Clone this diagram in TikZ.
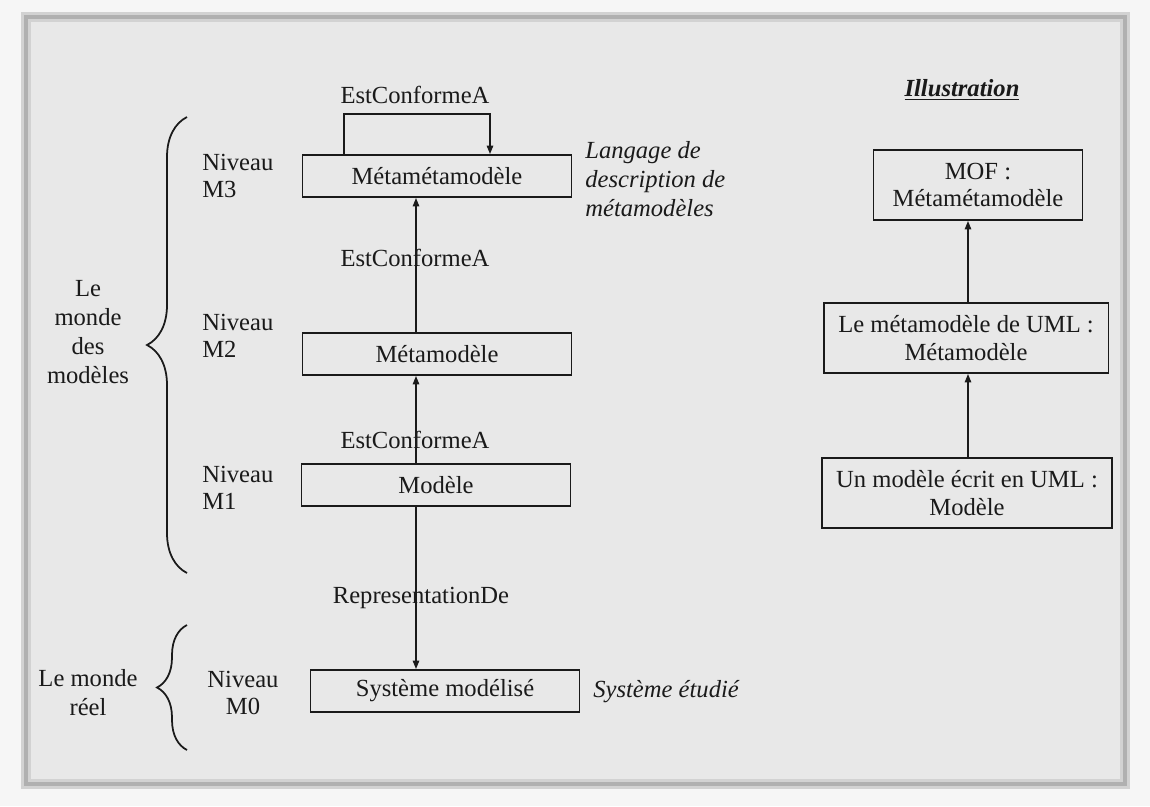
\documentclass[tikz,border=0pt]{standalone}
\usepackage{fontspec}
\setmainfont{Liberation Serif}
\usetikzlibrary{arrows.meta,decorations.pathreplacing,calc}
\definecolor{ink}{HTML}{1A1A1A}
\definecolor{paper}{HTML}{E8E8E8}
\definecolor{sheet}{HTML}{F6F6F6}
\begin{document}
\begin{tikzpicture}[x=0.02cm,y=-0.02cm,
  txt/.style={font=\fontsize{14}{16.5}\selectfont, text=ink, inner sep=0pt},
  pair/.style={font=\fontsize{14}{15.5}\selectfont, text=ink, inner sep=0pt},
  box/.style={txt, draw=ink, line width=1.1pt, minimum height=0.84cm, minimum width=5.38cm},
  ibox/.style={pair, draw=ink, line width=1.1pt, align=center, minimum height=1.4cm},
  link/.style={draw=ink, line width=0.8pt, -{Triangle[length=0.17cm,width=0.13cm]}},
  brc/.style={draw=ink, line width=1pt, decorate, decoration={brace, amplitude=#1}},
]
\useasboundingbox (0,0) rectangle (1150,806);
% sheet and framed panel
\fill[sheet] (0,0) rectangle (1150,806);
\fill[paper] (26,17) rectangle (1125,784);
\draw[gray!35, line width=6pt] (26,17) rectangle (1125,784);
\draw[gray!62, line width=2pt] (26,17) rectangle (1125,784);

% left column: modelling levels
\node[box] (m3) at (437,176) {Métamétamodèle};
\node[box] (m2) at (437,354) {Métamodèle};
\node[box] (m1) at (436,485) {Modèle};
\node[box] (m0) at (445,691) {Système modélisé};

\coordinate (ax) at (416,0);
\coordinate (lp1) at (344,114);
\coordinate (lp2) at (490,114);

\draw[link] (m3.north -| lp1) -- (lp1) -- (lp2) -- (m3.north -| lp2);
\draw[link] (m2.north -| ax) -- (m3.south -| ax);
\draw[link] (m1.north -| ax) -- (m2.south -| ax);
\draw[link] (m1.south -| ax) -- (m0.north -| ax);

\node[txt] (c3) at (415,95) {EstConformeA};
\node[txt] (c2) at (415,258) {EstConformeA};
\node[txt] (c1) at (415,440) {EstConformeA};
\node[txt] (rep) at (421,598) {RepresentationDe};

\node[txt, align=left, anchor=west] (lang) at (585,179)
  {\itshape Langage de\\\itshape description de\\\itshape métamodèles};
\node[txt, anchor=west] (etud) at (593,692) {\itshape Système étudié};

% level names
\node[pair, align=left, anchor=west] (n3) at (202,176) {Niveau\\M3};
\node[pair, align=left, anchor=west] (n2) at (202,336) {Niveau\\M2};
\node[pair, align=left, anchor=west] (n1) at (202,488) {Niveau\\M1};
\node[pair, align=center] (n0) at (243,693) {Niveau\\M0};

% worlds and braces
\draw[brc=0.8cm] (187,573) -- (187,117);
\draw[brc=0.6cm] (187,750) -- (187,625);
\node[txt, align=center] (wm) at (88,332) {Le\\monde\\des\\modèles};
\node[txt, align=center] (wr) at (88,693) {Le monde\\réel};

% right column: illustration
\node[txt] (ill) at (962,90) {\underline{\textbf{\textit{Illustration}}}};
\node[ibox, minimum width=4.18cm] (mof) at (978,185) {MOF :\\Métamétamodèle};
\node[ibox, minimum width=5.7cm] (u2) at (966,338) {Le métamodèle de UML :\\Métamodèle};
\node[ibox, minimum width=5.8cm] (u1) at (967,493) {Un modèle écrit en UML :\\Modèle};

\coordinate (bx) at (968,0);
\draw[link] (u2.north -| bx) -- (mof.south -| bx);
\draw[link] (u1.north -| bx) -- (u2.south -| bx);
\end{tikzpicture}
\end{document}
